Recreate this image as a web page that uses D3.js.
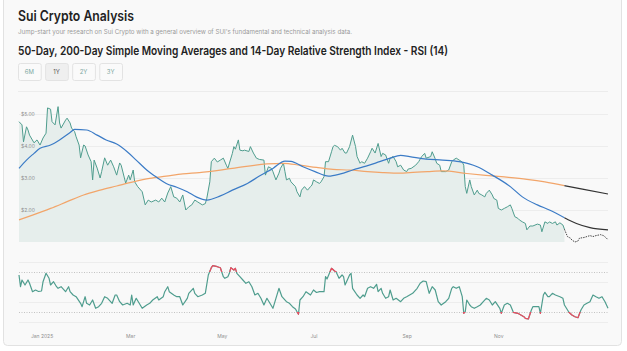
<!DOCTYPE html>
<html>
<head>
<meta charset="utf-8">
<script src="https://cdn.jsdelivr.net/npm/d3@7"></script>
<style>
  html, body { margin: 0; padding: 0; background: #ffffff; }
  svg { display: block; font-family: Inter, "Noto Sans", sans-serif; }
</style>
</head>
<body>
<div id="wrapper"></div>
<script>
// day offsets are counted from startDate
const startDate = new Date(2024, 11, 17)
const endDay = 392
const lastActualDay = 363

const ranges = ['6M', '1Y', '2Y', '3Y']
const activeRange = '1Y'
const priceTicks = [2, 3, 4, 5]
const rsiGrid = [20, 40, 60, 80]
const rsiBands = [30, 70]
const monthTicks = [new Date(2025, 0, 1), new Date(2025, 2, 1), new Date(2025, 4, 1),
  new Date(2025, 6, 1), new Date(2025, 8, 1), new Date(2025, 10, 1)]

const price = [
  [0, 4.76], [2, 4.66], [3, 4.13], [5, 4.60], [6, 4.5], [7, 4.34], [10, 4.1], [12, 4.19], [14, 4.03],
  [16, 4.25], [18, 4.4], [19, 5.19], [21, 5.15], [22, 4.76], [24, 4.66], [26, 5.23], [27, 4.72],
  [28, 4.56], [31, 4.81], [32, 4.87], [34, 4.72], [35, 4.56], [37, 4.45], [38, 4.29], [40, 4.03],
  [41, 3.63], [43, 4.03], [44, 4.0], [46, 3.72], [48, 3.51], [49, 2.94], [50, 3.56], [52, 3.31],
  [54, 3.0], [55, 3.2], [57, 3.63], [59, 3.4], [61, 3.56], [63, 3.35], [65, 3.09], [67, 3.47],
  [68, 3.4], [71, 2.84], [73, 3.09], [74, 2.94], [76, 3.25], [77, 2.88], [79, 2.73], [82, 2.57],
  [84, 2.16], [86, 2.31], [88, 2.25], [91, 2.31], [93, 2.25], [95, 2.37], [97, 2.25], [99, 2.53],
  [101, 2.73], [103, 2.41], [105, 2.37], [107, 2.25], [109, 2.47], [111, 2.0], [113, 2.1],
  [115, 2.16], [117, 2.31], [119, 2.25], [122, 2.16], [124, 2.2], [125, 2.37], [127, 2.88],
  [128, 3.51], [130, 3.62], [132, 3.5], [134, 3.56], [136, 3.62], [138, 3.4], [139, 3.3],
  [142, 3.77], [143, 3.98], [144, 3.9], [146, 4.19], [147, 3.87], [149, 3.85], [150, 3.87],
  [153, 3.83], [154, 3.98], [156, 3.78], [158, 3.62], [160, 3.58], [163, 3.56], [164, 3.09],
  [166, 3.35], [168, 3.3], [169, 3.2], [171, 2.94], [173, 3.15], [174, 3.3], [176, 3.46],
  [177, 3.2], [178, 2.94], [180, 2.99], [181, 2.88], [184, 2.73], [185, 2.57], [187, 2.41],
  [188, 2.62], [190, 2.73], [192, 2.62], [194, 2.73], [195, 2.78], [196, 2.94], [198, 2.88],
  [200, 2.83], [201, 2.88], [203, 3.04], [204, 3.51], [206, 3.51], [208, 3.82], [209, 3.98],
  [210, 4.02], [212, 3.98], [214, 3.87], [215, 3.93], [217, 3.78], [218, 3.78], [220, 3.98],
  [222, 4.34], [224, 3.98], [225, 3.67], [227, 3.46], [228, 3.51], [230, 3.46], [232, 3.62],
  [234, 3.82], [235, 3.93], [237, 3.78], [239, 4.08], [241, 3.67], [242, 3.77], [244, 3.72],
  [246, 3.46], [247, 3.62], [249, 3.67], [251, 3.51], [252, 3.35], [254, 3.4], [256, 3.25],
  [258, 3.2], [259, 3.28], [261, 3.3], [264, 3.4], [266, 3.51], [268, 3.67], [270, 3.77],
  [271, 3.62], [274, 3.67], [275, 3.82], [277, 3.6], [278, 3.46], [280, 3.4], [281, 3.2],
  [284, 3.2], [286, 3.25], [288, 3.51], [289, 3.56], [291, 3.62], [293, 3.56], [295, 3.5],
  [296, 3.4], [297, 2.73], [298, 2.52], [300, 2.94], [301, 2.73], [303, 2.47], [305, 2.62],
  [306, 2.52], [308, 2.47], [310, 2.41], [311, 2.52], [313, 2.62], [315, 2.47], [316, 2.36],
  [318, 2.31], [319, 2.05], [321, 2.0], [323, 2.05], [325, 2.1], [327, 2.16], [328, 2.05],
  [330, 1.79], [332, 1.74], [333, 1.69], [335, 1.63], [337, 1.58], [338, 1.38], [340, 1.5],
  [342, 1.5], [345, 1.56], [347, 1.53], [348, 1.32], [350, 1.63], [352, 1.58], [353, 1.63],
  [355, 1.58], [357, 1.63], [358, 1.53], [360, 1.6], [362, 1.53], [363, 1.4]
]

const priceForecast = [
  [363, 1.4], [365, 1.17], [367, 1.12], [368, 1.06], [370, 1.0], [372, 1.03], [373, 1.12],
  [376, 1.14], [378, 1.17], [380, 1.2], [382, 1.17], [384, 1.2], [387, 1.23], [389, 1.2],
  [391, 1.12], [392, 1.07]
]

const sma50 = [
  [0, 3.30], [5, 3.56], [10, 3.77], [14, 3.93], [21, 4.03], [27, 4.19], [34, 4.42], [37, 4.52],
  [45, 4.5], [52, 4.34], [58, 4.19], [65, 4.06], [72, 3.82], [78, 3.56], [85, 3.25], [92, 3.01],
  [98, 2.83], [105, 2.71], [112, 2.57], [118, 2.41], [125, 2.31], [134, 2.44], [142, 2.62],
  [152, 2.83], [160, 3.06], [169, 3.30], [177, 3.53], [181, 3.52], [189, 3.35], [197, 3.2],
  [206, 3.06], [214, 3.13], [222, 3.25], [231, 3.37], [240, 3.51], [247, 3.62], [254, 3.71],
  [260, 3.67], [271, 3.59], [282, 3.56], [293, 3.51], [305, 3.35], [315, 3.09], [327, 2.73],
  [335, 2.41], [345, 2.16], [353, 2.0], [363, 1.76]
]
const sma50Forecast = [[363, 1.76], [371, 1.58], [380, 1.45], [392, 1.38]]

const sma200 = [
  [0, 1.69], [9, 1.84], [21, 2.05], [32, 2.26], [43, 2.47], [54, 2.62], [65, 2.75], [76, 2.88],
  [87, 2.99], [98, 3.06], [109, 3.13], [120, 3.17], [142, 3.30], [165, 3.44], [176, 3.46],
  [187, 3.4], [198, 3.33], [209, 3.27], [220, 3.25], [232, 3.2], [242, 3.17], [254, 3.15],
  [260, 3.17], [272, 3.2], [282, 3.22], [298, 3.14], [321, 3.04], [338, 2.96], [350, 2.88],
  [363, 2.76]
]
const sma200Forecast = [[363, 2.76], [375, 2.65], [392, 2.5]]

const rsi = [
  [0, 67], [1, 55.3], [2, 62], [4, 57], [6, 62], [7, 58.7], [9, 50.3], [11, 52], [13, 50.5],
  [15, 51], [16, 60.3], [18, 68.7], [20, 63.7], [21, 57], [23, 60.3], [25, 55.3], [26, 53.7],
  [28, 55.3], [31, 50.3], [33, 55.3], [34, 50.3], [36, 47], [38, 45.3], [41, 38.7], [42, 35.3],
  [44, 45.3], [45, 38.7], [47, 37], [49, 42], [51, 33.7], [53, 35.3], [55, 38.7], [57, 45.3],
  [59, 43.7], [62, 38.7], [64, 47], [65, 47], [67, 40.3], [69, 37], [72, 38.7], [74, 37],
  [75, 47], [76, 37], [78, 43.7], [80, 38.7], [82, 33.7], [85, 37], [87, 38.7], [89, 42],
  [92, 45.3], [93, 42], [96, 45.3], [97, 50.3], [99, 55.3], [100, 50.3], [103, 47], [105, 45.3],
  [107, 45.3], [109, 37], [112, 43.7], [113, 48.7], [116, 53.7], [117, 48.7], [119, 45.3],
  [122, 47], [124, 48.7], [126, 67], [128, 74.3], [129, 76.3], [132, 75.3], [134, 74.3],
  [136, 65.3], [137, 63.7], [139, 65.3], [140, 68.7], [141, 74.3], [143, 72], [144, 73.7],
  [145, 68.7], [147, 65.3], [149, 62], [151, 58.7], [153, 60.3], [155, 55.3], [157, 47],
  [159, 48.7], [161, 43.7], [163, 37], [165, 43.7], [167, 38.7], [169, 33.7], [171, 43.7],
  [173, 53.7], [175, 45.3], [178, 40.3], [180, 38.7], [182, 35.3], [184, 33], [186, 27.7],
  [187, 42], [189, 45.3], [191, 50.3], [194, 47], [196, 52], [198, 49.5], [200, 50.3],
  [203, 50.3], [204, 65.3], [205, 63], [207, 70.3], [208, 73.7], [210, 71], [211, 70.3],
  [213, 63.7], [215, 67], [216, 65.3], [217, 57], [218, 60.3], [220, 67], [221, 68.7],
  [222, 53.7], [225, 47], [227, 43.7], [229, 47], [230, 45.3], [232, 53.7], [234, 55.3],
  [236, 53.7], [238, 57.7], [239, 50.3], [241, 53.7], [242, 48.7], [244, 43.7], [246, 45.3],
  [247, 52], [249, 42], [251, 43.7], [254, 40.3], [256, 43.7], [258, 45.3], [260, 47],
  [262, 48.7], [265, 53.7], [267, 58.7], [269, 61], [271, 60.3], [273, 48.7], [275, 55.3],
  [277, 52], [279, 40.3], [281, 37], [284, 40.3], [286, 43.7], [288, 53.7], [289, 55.3],
  [291, 53.7], [293, 55.3], [295, 45.3], [296, 28.7], [297, 30.3], [298, 42], [300, 37],
  [301, 35.3], [303, 33.7], [305, 35.3], [307, 37], [309, 40.3], [311, 43.7], [313, 42],
  [315, 37], [317, 40.3], [320, 33.7], [321, 28.7], [323, 37], [325, 38.7], [327, 37],
  [329, 29.7], [332, 28.7], [334, 27], [336, 25.3], [337, 23.7], [339, 23], [341, 32],
  [342, 35.3], [345, 35.3], [346, 35.3], [347, 28.7], [349, 47], [350, 49.7], [352, 45.3],
  [353, 45.3], [355, 48.7], [357, 47], [360, 45.3], [362, 43.7], [363, 37], [366, 29.7],
  [368, 27], [370, 25.3], [372, 24.3], [374, 32], [376, 37], [378, 38.7], [380, 40.3],
  [382, 47], [384, 45.3], [386, 43.7], [388, 45.3], [390, 40.3], [392, 33.7]
]

function drawChart() {
  const width = 627
  const height = 351
  const plot = { left: 19, right: 608, priceTop: 98, priceBottom: 242, rsiTop: 242, rsiBottom: 342 }

  const toDate = d => d3.timeDay.offset(startDate, d)

  const svg = d3.select('#wrapper').append('svg')
    .attr('width', width)
    .attr('height', height)

  // card
  svg.append('rect')
    .attr('x', 3.5).attr('y', -6)
    .attr('width', 618).attr('height', 351.5)
    .attr('rx', 4)
    .attr('fill', '#f9f9f9')
    .attr('stroke', '#e2e2e2')

  // header texts
  svg.append('text')
    .attr('x', 18).attr('y', 21)
    .attr('font-size', 14).attr('font-weight', 600).attr('fill', '#222')
    .attr('textLength', 116).attr('lengthAdjust', 'spacingAndGlyphs')
    .text('Sui Crypto Analysis')

  svg.append('text')
    .attr('x', 18).attr('y', 34)
    .attr('font-size', 6.5).attr('fill', '#9a9a9a')
    .attr('textLength', 334).attr('lengthAdjust', 'spacingAndGlyphs')
    .text("Jump-start your research on Sui Crypto with a general overview of SUI's fundamental and technical analysis data.")

  svg.append('text')
    .attr('x', 18).attr('y', 55)
    .attr('font-size', 12).attr('font-weight', 600).attr('fill', '#222')
    .attr('textLength', 430).attr('lengthAdjust', 'spacingAndGlyphs')
    .text('50-Day, 200-Day Simple Moving Averages and 14-Day Relative Strength Index - RSI (14)')

  const btnScale = d3.scaleBand().domain(ranges).range([18, 122]).paddingInner(0.16)
  const btns = svg.selectAll('.btn').data(ranges).enter().append('g').attr('class', 'btn')
  btns.append('rect')
    .attr('x', d => btnScale(d) + 0.5).attr('y', 63.5)
    .attr('width', btnScale.bandwidth()).attr('height', 17)
    .attr('rx', 2)
    .attr('fill', d => d === activeRange ? '#efefef' : '#fafafa')
    .attr('stroke', '#e3e3e3')
  btns.append('text')
    .attr('x', d => btnScale(d) + btnScale.bandwidth() / 2).attr('y', 74)
    .attr('text-anchor', 'middle')
    .attr('font-size', 6).attr('fill', d => d === activeRange ? '#555' : '#7ea9a2')
    .text(d => d)

  svg.append('line')
    .attr('x1', 18).attr('x2', 608).attr('y1', 91.5).attr('y2', 91.5)
    .attr('stroke', '#ececec')

  // scales
  const xScale = d3.scaleTime()
    .domain([startDate, toDate(endDay)])
    .range([plot.left, plot.right])

  const yScale = d3.scaleLinear()
    .domain([1, 5.5])
    .range([plot.priceBottom, plot.priceTop])

  const rsiScale = d3.scaleLinear()
    .domain([0, 100])
    .range([plot.rsiBottom, plot.rsiTop])

  // price grid
  svg.append('g').selectAll('line').data(priceTicks).enter().append('line')
    .attr('x1', plot.left).attr('x2', plot.right)
    .attr('y1', d => yScale(d) + 0.5).attr('y2', d => yScale(d) + 0.5)
    .attr('stroke', '#ededed')

  // area + lines
  const areaGen = d3.area()
    .x(d => xScale(toDate(d[0])))
    .y0(yScale(1))
    .y1(d => yScale(d[1]))

  const lineGen = d3.line()
    .x(d => xScale(toDate(d[0])))
    .y(d => yScale(d[1]))

  const smoothGen = d3.line()
    .x(d => xScale(toDate(d[0])))
    .y(d => yScale(d[1]))
    .curve(d3.curveMonotoneX)

  svg.append('path')
    .attr('d', areaGen(price))
    .attr('fill', '#e6eeec')

  svg.append('path')
    .attr('d', lineGen(price))
    .attr('fill', 'none')
    .attr('stroke', '#4f9d8e')
    .attr('stroke-width', 1)
    .attr('stroke-linejoin', 'round')

  svg.append('path')
    .attr('d', smoothGen(sma200))
    .attr('fill', 'none')
    .attr('stroke', '#f2a56a')
    .attr('stroke-width', 1.2)

  svg.append('path')
    .attr('d', smoothGen(sma50))
    .attr('fill', 'none')
    .attr('stroke', '#3b7bc6')
    .attr('stroke-width', 1.2)

  // forecast
  svg.append('path')
    .attr('d', smoothGen(sma200Forecast))
    .attr('fill', 'none')
    .attr('stroke', '#333')
    .attr('stroke-width', 1.2)

  svg.append('path')
    .attr('d', smoothGen(sma50Forecast))
    .attr('fill', 'none')
    .attr('stroke', '#333')
    .attr('stroke-width', 1.2)

  svg.append('path')
    .attr('d', lineGen(priceForecast))
    .attr('fill', 'none')
    .attr('stroke', '#333')
    .attr('stroke-width', 0.9)
    .attr('stroke-dasharray', '1.5,1')

  // y labels
  svg.append('g').selectAll('text').data(priceTicks).enter().append('text')
    .attr('x', 21).attr('y', d => yScale(d) + 2)
    .attr('font-size', 5).attr('fill', '#8f8f8f')
    .text(d => d3.format('$.2f')(d))

  // RSI panel
  svg.append('g').selectAll('line').data(rsiGrid).enter().append('line')
    .attr('x1', plot.left).attr('x2', plot.right)
    .attr('y1', d => rsiScale(d) + 0.5).attr('y2', d => rsiScale(d) + 0.5)
    .attr('stroke', '#ededed')

  svg.append('g').selectAll('line').data(rsiBands).enter().append('line')
    .attr('x1', plot.left).attr('x2', plot.right)
    .attr('y1', d => rsiScale(d) + 0.5).attr('y2', d => rsiScale(d) + 0.5)
    .attr('stroke', '#b5b5b5')
    .attr('stroke-width', 0.8)
    .attr('stroke-dasharray', '1,1.5')

  const rsiLine = d3.line()
    .x(d => xScale(toDate(d[0])))
    .y(d => rsiScale(d[1]))

  const defs = svg.append('defs')
  const clip = defs.append('clipPath').attr('id', 'rsi-extreme')
  clip.append('rect')
    .attr('x', 0).attr('width', width)
    .attr('y', 0).attr('height', rsiScale(70))
  clip.append('rect')
    .attr('x', 0).attr('width', width)
    .attr('y', rsiScale(30)).attr('height', height)

  svg.append('path')
    .attr('d', rsiLine(rsi))
    .attr('fill', 'none')
    .attr('stroke', '#4f9d8e')
    .attr('stroke-width', 1.2)
    .attr('stroke-linejoin', 'round')

  svg.append('path')
    .attr('d', rsiLine(rsi))
    .attr('fill', 'none')
    .attr('stroke', '#ee4b60')
    .attr('stroke-width', 1.2)
    .attr('stroke-linejoin', 'round')
    .attr('clip-path', 'url(#rsi-extreme)')

  // x axis
  const xAxis = d3.axisBottom(xScale)
    .tickValues(monthTicks)
    .tickSize(0)
    .tickFormat(d => d.getMonth() === 0 ? d3.timeFormat('%b %Y')(d) : d3.timeFormat('%b')(d))

  const xAxisG = svg.append('g')
    .attr('transform', 'translate(0, 331)')
    .call(xAxis)
  xAxisG.select('.domain').remove()
  xAxisG.selectAll('text')
    .attr('font-family', 'Inter, "Noto Sans", sans-serif')
    .attr('font-size', 5)
    .attr('fill', '#8f8f8f')
}
drawChart()
</script>
</body>
</html>
